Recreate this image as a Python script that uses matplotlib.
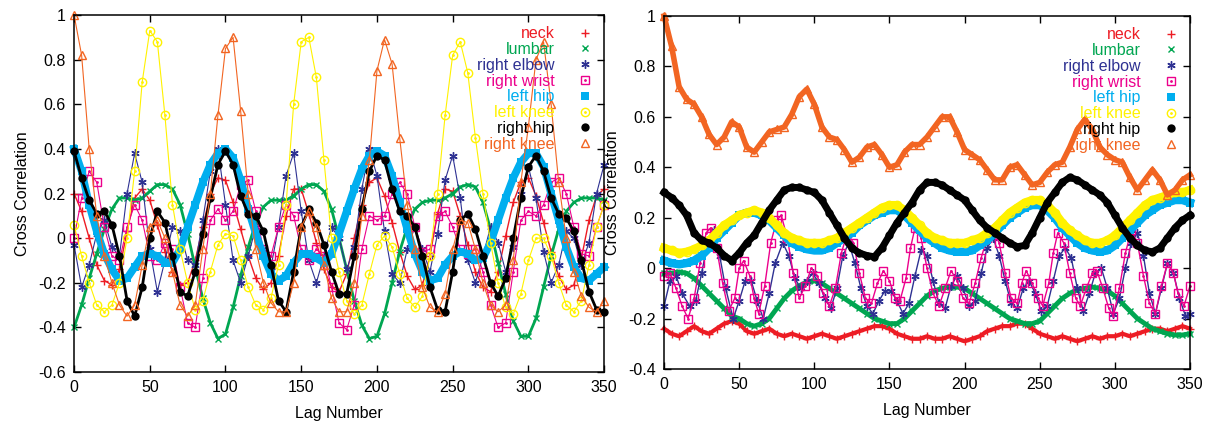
import matplotlib
matplotlib.use("Agg")
import matplotlib.pyplot as plt
from matplotlib.lines import Line2D
from matplotlib.ticker import MultipleLocator, FuncFormatter

plt.rcParams['font.family'] = ['Liberation Sans', 'DejaVu Sans']
plt.rcParams['axes.unicode_minus'] = False

# lag numbers sampled every 5 lags
lags = list(range(0, 351, 5))

# ---- left panel ----
neck_l = [0.20, 0.12, 0.00, -0.12, -0.19, -0.21, -0.14, 0.03, 0.18, 0.22,
          0.17, 0.06, -0.06, -0.15, -0.21, -0.20, -0.10, 0.05, 0.20, 0.27,
          0.26, 0.16, 0.04, -0.08, -0.18, -0.23, -0.20, -0.08, 0.10, 0.22,
          0.22, 0.11, -0.02, -0.14, -0.22, -0.24, -0.16, 0.00, 0.15, 0.25,
          0.27, 0.19, 0.07, -0.06, -0.17, -0.23, -0.21, -0.08, 0.11, 0.22,
          0.21, 0.10, -0.03, -0.15, -0.22, -0.24, -0.15, 0.01, 0.16, 0.25,
          0.27, 0.19, 0.07, -0.06, -0.17, -0.23, -0.21, -0.09, 0.08, 0.19,
          0.22]
lumbar_l = [-0.40, -0.30, -0.18, -0.07, 0.04, 0.13, 0.18, 0.18, 0.17, 0.18,
            0.21, 0.24, 0.24, 0.22, 0.15, 0.02, -0.13, -0.27, -0.38, -0.45,
            -0.43, -0.31, -0.17, -0.04, 0.07, 0.14, 0.17, 0.17, 0.17, 0.19,
            0.22, 0.24, 0.24, 0.21, 0.13, 0.00, -0.14, -0.28, -0.39, -0.45,
            -0.44, -0.34, -0.20, -0.06, 0.05, 0.13, 0.16, 0.17, 0.17, 0.18,
            0.20, 0.23, 0.24, 0.23, 0.16, 0.04, -0.11, -0.25, -0.37, -0.44,
            -0.44, -0.36, -0.22, -0.08, 0.04, 0.12, 0.16, 0.18, 0.18, 0.18,
            0.17]
elbow_l = [-0.03, -0.22, -0.12, 0.02, 0.08, -0.04, -0.08, 0.20, 0.38, 0.25,
           -0.05, -0.24, -0.10, 0.05, 0.03, -0.10, -0.12, 0.08, 0.30, 0.40,
           0.15, -0.10, -0.20, -0.08, 0.05, -0.05, -0.13, 0.05, 0.28, 0.38,
           0.12, -0.10, -0.20, -0.08, 0.05, 0.00, -0.14, -0.04, 0.22, 0.40,
           0.28, 0.03, -0.16, -0.20, -0.05, 0.05, -0.05, -0.15, 0.02, 0.26,
           0.37, 0.18, -0.10, -0.20, -0.08, 0.05, -0.02, -0.15, -0.04, 0.20,
           0.32, 0.18, -0.06, -0.20, -0.12, 0.03, 0.00, -0.12, -0.02, 0.20,
           0.33]
wrist_l = [0.00, 0.18, 0.30, 0.25, 0.05, -0.08, -0.10, 0.05, 0.15, 0.08,
           -0.08, -0.10, -0.02, -0.05, -0.22, -0.38, -0.40, -0.18, 0.08, 0.13,
           0.08, 0.12, 0.24, 0.26, 0.12, -0.05, -0.08, 0.05, 0.15, 0.10,
           -0.05, -0.10, -0.05, -0.08, -0.22, -0.38, -0.41, -0.30, -0.05, 0.10,
           0.08, 0.10, 0.20, 0.25, 0.20, 0.05, -0.06, -0.05, 0.10, 0.12,
           0.05, -0.05, -0.07, -0.05, -0.15, -0.30, -0.40, -0.38, -0.15, 0.08,
           0.12, 0.10, 0.15, 0.25, 0.27, 0.20, 0.05, -0.07, -0.08, 0.05,
           0.15]
lhip_l = [0.40, 0.30, 0.15, 0.03, -0.07, -0.14, -0.19, -0.18, -0.13, -0.08,
          -0.07, -0.08, -0.11, -0.11, -0.05, 0.05, 0.15, 0.25, 0.33, 0.38,
          0.40, 0.36, 0.26, 0.13, 0.02, -0.08, -0.16, -0.19, -0.17, -0.11,
          -0.07, -0.07, -0.09, -0.11, -0.07, 0.02, 0.12, 0.22, 0.31, 0.37,
          0.39, 0.37, 0.28, 0.16, 0.04, -0.07, -0.15, -0.19, -0.18, -0.12,
          -0.08, -0.06, -0.07, -0.10, -0.09, -0.02, 0.08, 0.18, 0.27, 0.34,
          0.38, 0.38, 0.32, 0.20, 0.08, -0.04, -0.13, -0.18, -0.19, -0.16,
          -0.13]
lknee_l = [0.06, -0.08, -0.20, -0.30, -0.33, -0.30, -0.20, 0.00, 0.30, 0.70,
           0.93, 0.88, 0.55, 0.15, -0.05, -0.20, -0.32, -0.28, -0.15, -0.03,
           0.02, 0.01, -0.10, -0.22, -0.30, -0.32, -0.27, -0.12, 0.15, 0.60,
           0.88, 0.90, 0.72, 0.35, 0.00, -0.15, -0.28, -0.34, -0.30, -0.16,
           -0.03, 0.01, -0.04, -0.16, -0.27, -0.31, -0.26, -0.08, 0.20, 0.55,
           0.82, 0.88, 0.74, 0.45, 0.20, -0.02, -0.20, -0.31, -0.34, -0.25,
           -0.10, 0.00, 0.00, -0.08, -0.20, -0.30, -0.33, -0.28, -0.12, 0.05,
           0.15]
rhip_l = [0.39, 0.27, 0.17, 0.11, 0.12, 0.06, -0.08, -0.28, -0.35, -0.22,
          0.00, 0.12, 0.07, -0.08, -0.24, -0.26, -0.15, 0.02, 0.18, 0.33,
          0.39, 0.33, 0.19, 0.11, 0.10, 0.03, -0.12, -0.28, -0.33, -0.15,
          0.05, 0.13, 0.07, -0.03, -0.15, -0.25, -0.25, -0.08, 0.13, 0.30,
          0.37, 0.35, 0.22, 0.12, 0.10, 0.05, -0.08, -0.22, -0.32, -0.33,
          -0.15, 0.08, 0.11, 0.04, -0.08, -0.20, -0.26, -0.18, 0.00, 0.18,
          0.32, 0.37, 0.30, 0.18, 0.11, 0.09, 0.03, -0.10, -0.24, -0.32,
          -0.33]
rknee_l = [1.00, 0.82, 0.40, 0.10, -0.08, -0.20, -0.30, -0.35, -0.30, -0.12,
           0.05, 0.08, 0.00, -0.15, -0.30, -0.35, -0.30, -0.05, 0.20, 0.55,
           0.85, 0.90, 0.57, 0.20, -0.05, -0.20, -0.29, -0.33, -0.33, -0.20,
           0.05, 0.12, 0.05, -0.12, -0.27, -0.33, -0.33, -0.20, 0.10, 0.35,
           0.75, 0.89, 0.78, 0.45, 0.15, -0.05, -0.22, -0.31, -0.33, -0.25,
           -0.05, 0.08, 0.07, -0.05, -0.20, -0.30, -0.33, -0.30, -0.10, 0.25,
           0.50, 0.80, 0.88, 0.60, 0.25, 0.00, -0.15, -0.26, -0.31, -0.33,
           -0.28]

# ---- right panel ----
neck_r = [-0.24, -0.26, -0.27, -0.25, -0.23, -0.25, -0.26, -0.24, -0.22, -0.21,
          -0.22, -0.25, -0.26, -0.25, -0.24, -0.26, -0.27, -0.26, -0.27, -0.28,
          -0.27, -0.26, -0.27, -0.28, -0.27, -0.26, -0.25, -0.24, -0.23, -0.23,
          -0.24, -0.26, -0.27, -0.28, -0.28, -0.27, -0.28, -0.28, -0.27, -0.28,
          -0.29, -0.28, -0.27, -0.25, -0.24, -0.23, -0.23, -0.22, -0.22, -0.24,
          -0.26, -0.27, -0.28, -0.27, -0.28, -0.29, -0.28, -0.27, -0.28, -0.27,
          -0.27, -0.26, -0.27, -0.26, -0.25, -0.24, -0.24, -0.25, -0.24, -0.23,
          -0.24]
lumbar_r = [-0.02, -0.02, -0.015, -0.02, -0.04, -0.07, -0.10, -0.13, -0.16, -0.19,
            -0.20, -0.22, -0.23, -0.22, -0.20, -0.16, -0.12, -0.09, -0.07, -0.055,
            -0.05, -0.06, -0.08, -0.10, -0.12, -0.14, -0.16, -0.18, -0.20, -0.21,
            -0.22, -0.22, -0.20, -0.17, -0.14, -0.11, -0.09, -0.08, -0.075, -0.075,
            -0.08, -0.10, -0.12, -0.14, -0.16, -0.18, -0.20, -0.21, -0.22, -0.22,
            -0.21, -0.18, -0.15, -0.12, -0.10, -0.085, -0.08, -0.075, -0.08, -0.09,
            -0.11, -0.14, -0.17, -0.20, -0.22, -0.24, -0.25, -0.26, -0.265, -0.265,
            -0.26]
elbow_r_lags = [0, 4, 8, 12, 17, 21, 25, 29, 33, 37, 41, 46, 50, 54, 58, 62, 66, 70,
                74, 79, 83, 87, 91, 95, 99, 103, 107, 111, 115, 119, 123, 127, 131,
                135, 139, 143, 147, 151, 155, 159, 163, 167, 171, 175, 179, 183, 187,
                191, 195, 199, 203, 207, 211, 215, 219, 223, 227, 231, 235, 239, 243,
                247, 251, 255, 259, 263, 267, 271, 275, 279, 283, 287, 291, 295, 299,
                303, 307, 311, 315, 319, 323, 327, 331, 335, 339, 343, 347, 350]
elbow_r = [-0.15, -0.05, -0.03, -0.10, -0.15, -0.13, -0.02, 0.10, 0.15, 0.05,
           -0.08, -0.20, -0.13, -0.05, -0.05, -0.13, -0.20, -0.10, 0.02, 0.10,
           0.05, -0.04, -0.08, -0.05, -0.02, -0.06, -0.12, -0.16, -0.08, 0.05,
           0.10, 0.02, -0.08, -0.15, -0.18, -0.13, -0.09, -0.09, -0.13, -0.18,
           -0.14, -0.03, 0.07, 0.05, -0.05, -0.14, -0.16, -0.07, -0.03, -0.08,
           -0.15, -0.13, -0.02, 0.08, 0.12, 0.05, -0.05, -0.14, -0.16, -0.08,
           -0.05, -0.10, -0.17, -0.15, -0.05, 0.05, 0.08, 0.04, -0.08, -0.17,
           -0.10, -0.02, 0.00, -0.08, -0.18, -0.12, 0.00, 0.10, 0.14, 0.05,
           -0.10, -0.18, -0.08, 0.02, -0.02, -0.12, -0.19, -0.18]
wrist_r_lags = [0, 4, 8, 12, 16, 20, 24, 28, 31, 35, 39, 43, 47, 50, 53, 57, 60, 63,
                67, 71, 75, 78, 82, 86, 90, 94, 98, 102, 106, 110, 114, 118, 122, 126,
                130, 134, 138, 142, 146, 150, 154, 157, 161, 164, 167, 171, 175, 179,
                183, 187, 191, 195, 199, 203, 207, 211, 215, 219, 223, 227, 231, 235,
                238, 241, 245, 249, 252, 256, 259, 262, 266, 270, 274, 277, 281, 285,
                288, 292, 296, 299, 303, 307, 311, 315, 319, 323, 327, 331, 335, 339,
                342, 346, 350]
wrist_r = [-0.03, -0.02, -0.08, -0.15, -0.20, -0.12, 0.02, 0.14, 0.16, 0.08,
           -0.06, -0.17, -0.12, 0.00, 0.03, -0.03, -0.12, -0.18, -0.07, 0.10,
           0.19, 0.21, 0.12, -0.02, -0.12, -0.07, 0.00, -0.03, -0.10, -0.15,
           -0.08, 0.06, 0.14, 0.10, -0.02, -0.12, -0.14, -0.06, -0.01, -0.05,
           -0.12, -0.13, -0.04, 0.08, 0.16, 0.12, 0.00, -0.10, -0.15, -0.08,
           -0.01, -0.05, -0.12, -0.14, -0.06, 0.04, 0.12, 0.15, 0.10, -0.02,
           -0.12, -0.14, -0.06, -0.01, -0.06, -0.12, -0.15, -0.06, 0.06, 0.14,
           0.10, -0.02, -0.12, -0.15, -0.08, -0.02, -0.01, -0.08, -0.16, -0.19,
           -0.08, 0.06, 0.15, 0.10, -0.03, -0.14, -0.18, -0.07, 0.02, -0.02,
           -0.10, -0.15, -0.07]
lhip_r = [0.03, 0.02, 0.015, 0.02, 0.03, 0.05, 0.08, 0.12, 0.15, 0.18,
          0.21, 0.22, 0.22, 0.21, 0.19, 0.16, 0.13, 0.10, 0.085, 0.075,
          0.07, 0.07, 0.08, 0.10, 0.12, 0.14, 0.17, 0.19, 0.21, 0.22,
          0.23, 0.23, 0.21, 0.18, 0.15, 0.12, 0.10, 0.08, 0.07, 0.065,
          0.065, 0.07, 0.09, 0.11, 0.14, 0.17, 0.20, 0.22, 0.24, 0.25,
          0.25, 0.23, 0.20, 0.16, 0.13, 0.10, 0.08, 0.07, 0.065, 0.07,
          0.09, 0.12, 0.15, 0.18, 0.21, 0.23, 0.25, 0.26, 0.27, 0.27,
          0.26]
lknee_r = [0.08, 0.07, 0.06, 0.065, 0.075, 0.09, 0.11, 0.14, 0.17, 0.19,
           0.21, 0.22, 0.23, 0.22, 0.20, 0.17, 0.14, 0.12, 0.11, 0.10,
           0.10, 0.10, 0.11, 0.12, 0.14, 0.16, 0.18, 0.20, 0.22, 0.24,
           0.25, 0.25, 0.23, 0.20, 0.17, 0.14, 0.12, 0.11, 0.10, 0.10,
           0.10, 0.11, 0.12, 0.14, 0.16, 0.19, 0.22, 0.24, 0.26, 0.27,
           0.27, 0.25, 0.22, 0.18, 0.15, 0.13, 0.11, 0.10, 0.10, 0.11,
           0.13, 0.16, 0.19, 0.22, 0.25, 0.27, 0.28, 0.29, 0.30, 0.30,
           0.31]
rhip_r = [0.30, 0.28, 0.25, 0.21, 0.14, 0.11, 0.10, 0.08, 0.05, 0.03,
          0.06, 0.10, 0.13, 0.18, 0.23, 0.27, 0.31, 0.32, 0.32, 0.31,
          0.30, 0.27, 0.22, 0.17, 0.12, 0.08, 0.06, 0.05, 0.045, 0.08,
          0.13, 0.18, 0.22, 0.26, 0.31, 0.34, 0.34, 0.33, 0.31, 0.29,
          0.27, 0.23, 0.19, 0.16, 0.14, 0.12, 0.10, 0.085, 0.09, 0.14,
          0.20, 0.26, 0.30, 0.34, 0.36, 0.35, 0.33, 0.31, 0.29, 0.26,
          0.21, 0.16, 0.12, 0.09, 0.07, 0.065, 0.08, 0.12, 0.16, 0.19,
          0.21]
rknee_r = [1.00, 0.88, 0.72, 0.67, 0.65, 0.60, 0.53, 0.49, 0.52, 0.58,
           0.56, 0.48, 0.46, 0.50, 0.54, 0.55, 0.56, 0.61, 0.68, 0.71,
           0.65, 0.56, 0.52, 0.51, 0.47, 0.42, 0.44, 0.48, 0.49, 0.45,
           0.40, 0.41, 0.46, 0.49, 0.49, 0.52, 0.56, 0.60, 0.60, 0.54,
           0.47, 0.45, 0.43, 0.39, 0.35, 0.35, 0.40, 0.41, 0.37, 0.33,
           0.34, 0.38, 0.41, 0.42, 0.48, 0.55, 0.59, 0.55, 0.48, 0.45,
           0.43, 0.42, 0.36, 0.31, 0.35, 0.39, 0.35, 0.29, 0.31, 0.35,
           0.37]

names = ['neck', 'lumbar', 'right elbow', 'right wrist',
         'left hip', 'left knee', 'right hip', 'right knee']
colors = ['#ED1C24', '#00A651', '#2E3192', '#EC008C',
          '#00AEEF', '#FFF200', '#000000', '#F26522']

styles = {
    'neck': dict(marker='+', ms=6, mew=1.0),
    'lumbar': dict(marker='x', ms=5, mew=1.0),
    'right elbow': dict(marker=(6, 2, 0), ms=6, mew=1.0),
    'right wrist': dict(marker='s', ms=6, mew=1.0, mfc='none'),
    'left hip': dict(marker='s', ms=6, mew=0),
    'left knee': dict(marker='o', ms=6, mew=1.0, mfc='none'),
    'right hip': dict(marker='o', ms=6, mew=0),
    'right knee': dict(marker='^', ms=6, mew=1.0, mfc='none'),
}
dotted = ['right wrist', 'left knee']

left_data = {
    'neck': (lags, neck_l), 'lumbar': (lags, lumbar_l),
    'right elbow': (lags, elbow_l), 'right wrist': (lags, wrist_l),
    'left hip': (lags, lhip_l), 'left knee': (lags, lknee_l),
    'right hip': (lags, rhip_l), 'right knee': (lags, rknee_l),
}
right_data = {
    'neck': (lags, neck_r), 'lumbar': (lags, lumbar_r),
    'right elbow': (elbow_r_lags, elbow_r), 'right wrist': (wrist_r_lags, wrist_r),
    'left hip': (lags, lhip_r), 'left knee': (lags, lknee_r),
    'right hip': (lags, rhip_r), 'right knee': (lags, rknee_r),
}
# the markers sit one per lag, so they run together into a trail;
# a thin line of the same colour stands in for that trail
left_trails = {'neck': 1.0, 'lumbar': 2.0, 'right elbow': 0.8, 'right wrist': 0.8,
               'left hip': 5.5, 'left knee': 0.8, 'right hip': 2.0, 'right knee': 0.8}
right_trails = {'neck': 3, 'lumbar': 3.5, 'right elbow': 1.0, 'right wrist': 1.0,
                'left hip': 6, 'left knee': 6, 'right hip': 5, 'right knee': 4}


def panel(ax, data, trails, ymin):
    handles = []
    for name, color in zip(names, colors):
        x, y = data[name]
        st = styles[name]
        ax.plot(x, y, '-', color=color, lw=trails[name], clip_on=False)
        ax.plot(x, y, ls='none', color=color, clip_on=False, **st)
        h = Line2D([], [], ls='none', color=color, **st)
        if name in dotted:
            ax.plot(x, y, ls='none', marker='.', ms=2, color=color, clip_on=False)
            h = (h, Line2D([], [], ls='none', marker='.', ms=2, color=color))
        handles.append(h)

    ax.set_xlim(0, 350)
    ax.set_ylim(ymin, 1)
    ax.xaxis.set_major_locator(MultipleLocator(50))
    ax.yaxis.set_major_locator(MultipleLocator(0.2))
    ax.yaxis.set_major_formatter(FuncFormatter(lambda v, p: '%g' % (round(v, 1) + 0.0)))
    ax.tick_params(direction='in', top=True, right=True, length=5, width=1,
                   labelsize=11.5, pad=6)
    for s in ax.spines.values():
        s.set_linewidth(1.1)
    ax.set_xlabel('Lag Number', fontsize=11.5, labelpad=8)
    ax.set_ylabel('Cross Correlation', fontsize=11.5, labelpad=6)
    ax.legend(handles, names, loc='upper right', frameon=False, markerfirst=False,
              fontsize=11.5, labelcolor=colors, handlelength=1.0,
              handletextpad=1.4, labelspacing=0.05, borderaxespad=0.3)


fig = plt.figure(figsize=(12.08, 4.24), dpi=100)
ax1 = fig.add_axes([0.0613, 0.1226, 0.4388, 0.842])
ax2 = fig.add_axes([0.5497, 0.1297, 0.4354, 0.8326])
panel(ax1, left_data, left_trails, -0.6)
panel(ax2, right_data, right_trails, -0.4)

fig.savefig('out.png', dpi=100)
